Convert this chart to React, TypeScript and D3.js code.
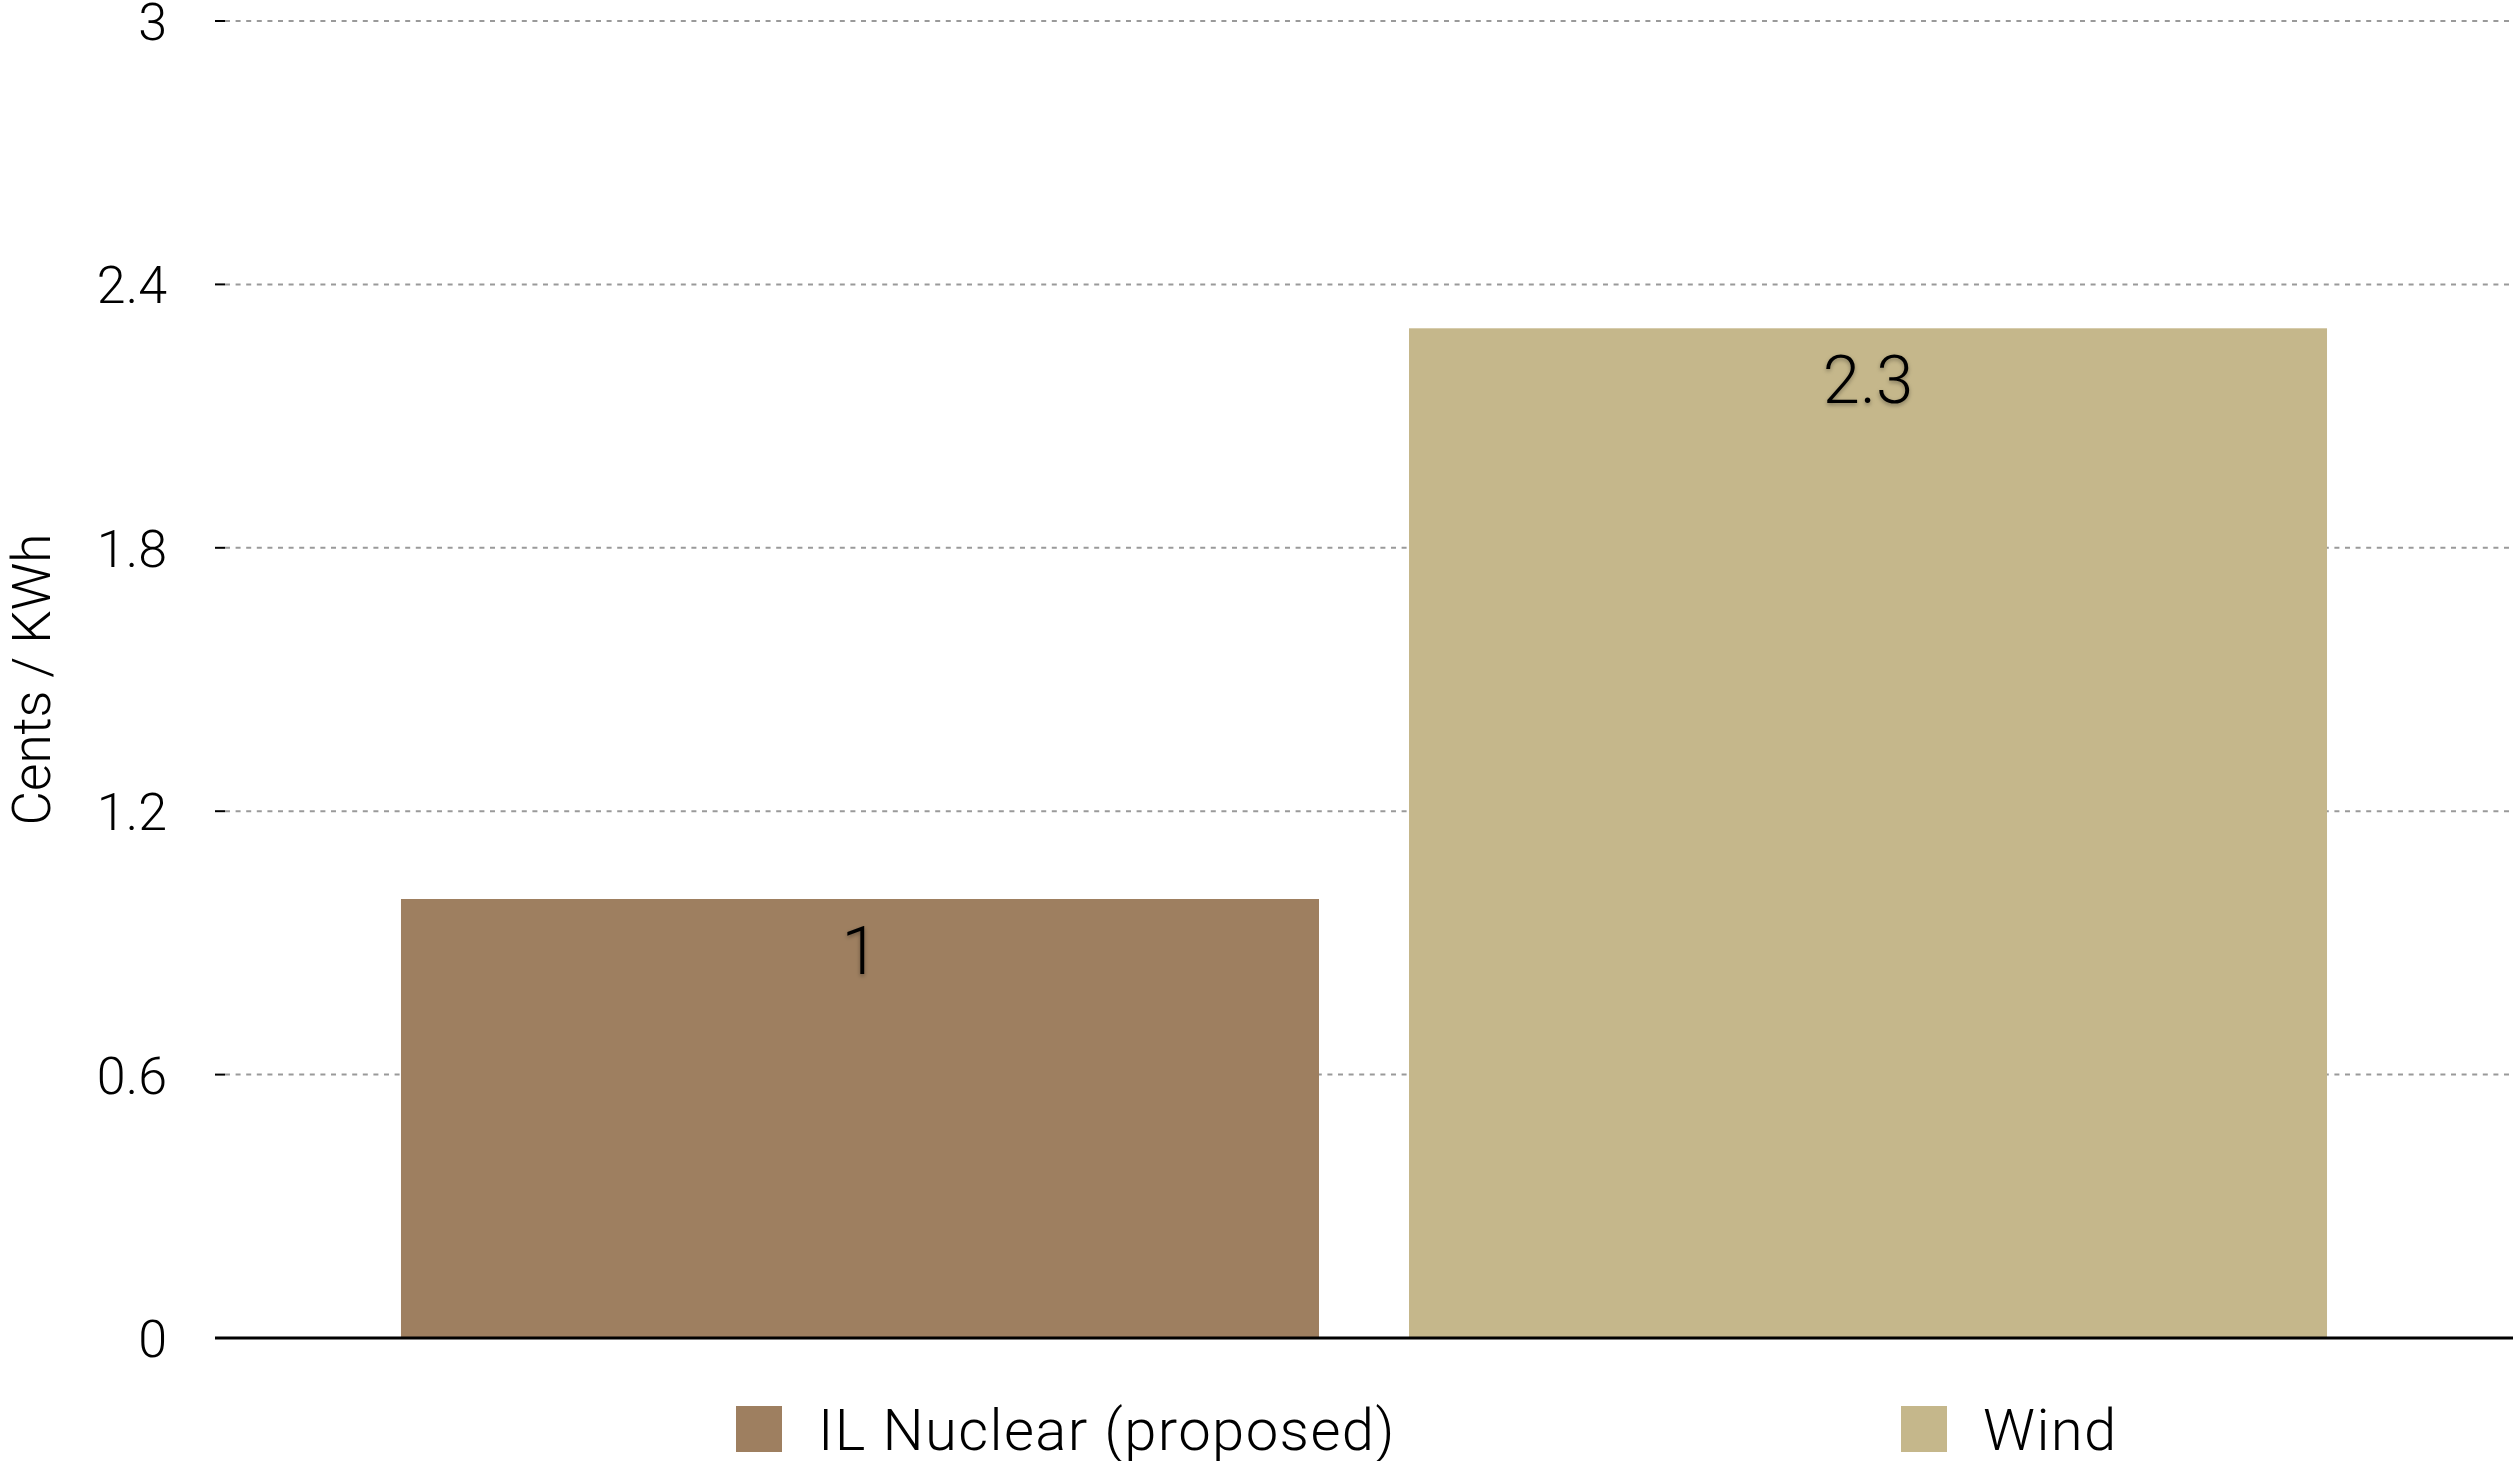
import React, { useEffect } from "react";
import * as d3 from "d3";

// Data
const categories = ["IL Nuclear (proposed)", "Wind"];
const values = [1, 2.3];
const colors = ["#9E7F60", "#C5B78B"];
const tickValues = [0, 0.6, 1.2, 1.8, 2.4, 3];
const tickLabels = ["0", "0.6", "1.2", "1.8", "2.4", "3"];
const yTitle = "Cents / KWh";

// Layout
const W = 2513;
const H = 1461;
const plotLeft = 215;
const plotRight = 2513;
const plotTop = 21;
const plotBottom = 1338;
const legendX = [736, 1901];
const legendSwatchTop = 1406;
const legendSwatch = 46;
const FONT = "Roboto, 'Helvetica Neue', Arial, sans-serif";

export default function App() {
  useEffect(() => {
    document.body.style.margin = "0";
    document.body.style.overflow = "hidden";
  }, []);

  const y = d3.scaleLinear().domain([0, 3]).range([plotBottom, plotTop]);
  const x = d3
    .scaleBand<string>()
    .domain(categories)
    .range([plotLeft, plotRight])
    .paddingInner(0.0893)
    .paddingOuter(0.1845);

  return (
    <svg width={W} height={H} style={{ display: "block", background: "#fff" }}>
      <defs>
        <filter id="labelShadow" x="-20%" y="-20%" width="140%" height="150%">
          <feDropShadow dx="0" dy="2" stdDeviation="2" floodColor="#000" floodOpacity="0.35" />
        </filter>
      </defs>

      {/* gridlines and tick marks */}
      {tickValues.map((t, i) => (
        <g key={"t" + i}>
          {t !== 0 && (
            <line
              x1={plotLeft + 10}
              x2={plotRight}
              y1={y(t)}
              y2={y(t)}
              stroke="#9a9a9a"
              strokeWidth={2}
              strokeDasharray="5,5.6"
            />
          )}
          <line x1={plotLeft} x2={plotLeft + 10} y1={y(t)} y2={y(t)} stroke="#000" strokeWidth={2} />
          <text
            x={167}
            y={y(t) + 19}
            textAnchor="end"
            fontFamily={FONT}
            fontWeight={300}
            fontSize={52}
            fill="#000"
          >
            {tickLabels[i]}
          </text>
        </g>
      ))}

      {/* bars */}
      {categories.map((c, i) => (
        <rect
          key={"b" + i}
          x={x(c)!}
          y={y(values[i])}
          width={x.bandwidth()}
          height={y(0) - y(values[i])}
          fill={colors[i]}
        />
      ))}

      {/* value labels */}
      {categories.map((c, i) => (
        <text
          key={"v" + i}
          x={x(c)! + x.bandwidth() / 2}
          y={y(values[i]) + 75}
          textAnchor="middle"
          fontFamily={FONT}
          fontWeight={300}
          fontSize={67}
          fill="#000"
          filter="url(#labelShadow)"
        >
          {String(values[i])}
        </text>
      ))}

      {/* baseline */}
      <line x1={plotLeft} x2={plotRight} y1={y(0)} y2={y(0)} stroke="#000" strokeWidth={3} />

      {/* y axis title */}
      <text
        transform={`translate(50, ${(plotTop + plotBottom) / 2}) rotate(-90)`}
        textAnchor="middle"
        fontFamily={FONT}
        fontWeight={300}
        fontSize={53}
        fill="#000"
      >
        {yTitle}
      </text>

      {/* legend */}
      {categories.map((c, i) => (
        <g key={"l" + i}>
          <rect x={legendX[i]} y={legendSwatchTop} width={legendSwatch} height={legendSwatch} fill={colors[i]} />
          <text
            x={legendX[i] + 82}
            y={1450}
            fontFamily={FONT}
            fontWeight={300}
            fontSize={58}
            letterSpacing={1.4}
            fill="#000"
          >
            {c}
          </text>
        </g>
      ))}
    </svg>
  );
}
